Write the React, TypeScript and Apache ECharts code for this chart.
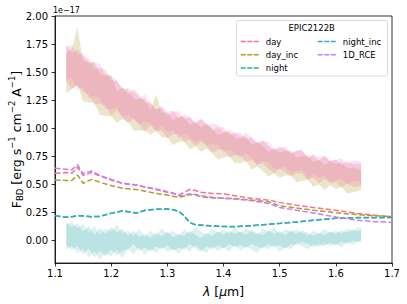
import React, { useEffect, useRef } from "react";
import * as echarts from "echarts";

const bandX = [1.12,1.13,1.14,1.15,1.16,1.17,1.18,1.19,1.20,1.21,1.22,1.23,1.24,1.25,1.26,1.27,1.28,1.29,1.30,1.31,1.32,1.33,1.34,1.35,1.36,1.37,1.38,1.39,1.40,1.41,1.42,1.43,1.44,1.45,1.46,1.47,1.48,1.49,1.50,1.51,1.52,1.53,1.54,1.55,1.56,1.57,1.58,1.59,1.60,1.61,1.62,1.63,1.64,1.645];

const dayHi = [1.74,1.67,1.70,1.64,1.62,1.53,1.54,1.52,1.43,1.42,1.36,1.30,1.35,1.30,1.23,1.23,1.17,1.18,1.11,1.15,1.15,1.08,1.10,1.04,1.08,1.04,0.98,1.01,1.01,0.94,0.96,0.96,0.90,0.92,0.87,0.89,0.84,0.80,0.84,0.81,0.77,0.80,0.80,0.74,0.76,0.71,0.75,0.71,0.72,0.67,0.71,0.68,0.68,0.69];
const dayLo = [1.42,1.35,1.38,1.32,1.30,1.21,1.22,1.20,1.11,1.16,1.10,1.04,1.09,1.04,0.97,1.03,0.97,0.98,0.91,0.95,0.95,0.88,0.90,0.84,0.88,0.84,0.78,0.81,0.81,0.74,0.76,0.76,0.70,0.72,0.67,0.69,0.64,0.60,0.64,0.61,0.57,0.60,0.60,0.54,0.56,0.51,0.55,0.51,0.52,0.47,0.51,0.48,0.48,0.49];
const incHi = [1.67,1.71,1.90,1.60,1.59,1.59,1.48,1.47,1.47,1.33,1.36,1.34,1.26,1.26,1.26,1.16,1.30,1.14,1.14,1.07,1.10,1.10,1.03,1.06,1.01,1.04,1.00,0.94,0.96,0.97,0.91,0.91,0.93,0.85,0.88,0.84,0.79,0.82,0.78,0.80,0.80,0.74,0.75,0.76,0.70,0.72,0.67,0.71,0.68,0.70,0.64,0.65,0.64,0.63];
const incLo = [1.31,1.35,1.39,1.24,1.23,1.23,1.12,1.11,1.11,1.05,1.08,1.06,0.98,0.98,0.98,0.94,0.98,0.92,0.92,0.85,0.88,0.88,0.81,0.84,0.79,0.82,0.78,0.72,0.74,0.75,0.69,0.69,0.71,0.63,0.66,0.62,0.57,0.60,0.56,0.58,0.58,0.52,0.53,0.54,0.48,0.50,0.45,0.49,0.46,0.48,0.42,0.43,0.44,0.45];
const rceHi = [1.73,1.74,1.65,1.67,1.57,1.59,1.57,1.47,1.47,1.43,1.34,1.36,1.32,1.27,1.30,1.22,1.16,1.20,1.15,1.16,1.09,1.13,1.10,1.05,1.09,1.03,1.04,1.03,0.96,0.99,0.96,0.92,0.96,0.92,0.86,0.89,0.88,0.82,0.82,0.84,0.78,0.80,0.81,0.73,0.77,0.74,0.76,0.70,0.72,0.73,0.68,0.71,0.71,0.69];
const rceLo = [1.43,1.44,1.35,1.37,1.27,1.29,1.27,1.17,1.17,1.19,1.10,1.12,1.08,1.03,1.06,1.04,0.98,1.02,0.97,0.98,0.91,0.95,0.92,0.87,0.91,0.85,0.86,0.85,0.78,0.81,0.78,0.74,0.78,0.74,0.68,0.71,0.70,0.64,0.64,0.66,0.60,0.62,0.63,0.55,0.59,0.56,0.58,0.52,0.54,0.55,0.50,0.53,0.53,0.51];
const niHi = [0.16,0.12,0.15,0.08,0.13,0.05,0.11,0.06,0.12,0.07,0.11,0.04,0.09,0.03,0.06,0.02,0.07,0.04,0.08,0.03,0.06,0.04,0.09,0.05,0.02,0.07,0.04,0.08,0.05,0.09,0.06,0.08,0.05,0.09,0.07,0.05,0.09,0.06,0.08,0.05,0.09,0.06,0.09,0.07,0.04,0.07,0.05,0.08,0.06,0.09,0.07,0.10,0.08,0.10];
const niLo = [-0.04,-0.08,-0.05,-0.12,-0.07,-0.15,-0.09,-0.14,-0.08,-0.13,-0.09,-0.08,-0.03,-0.09,-0.06,-0.10,-0.05,-0.08,-0.04,-0.09,-0.06,-0.08,-0.03,-0.07,-0.10,-0.05,-0.08,-0.04,-0.07,-0.03,-0.06,-0.04,-0.07,-0.03,-0.05,-0.07,-0.03,-0.06,-0.04,-0.07,-0.03,-0.04,-0.01,-0.03,-0.06,-0.03,-0.05,-0.02,-0.04,-0.01,-0.03,0.00,-0.02,0.00];
const nHi = [0.14,0.17,0.11,0.15,0.07,0.13,0.05,0.11,0.08,0.14,0.06,0.09,0.04,0.10,0.03,0.09,0.05,0.11,0.06,0.09,0.04,0.10,0.06,0.12,0.08,0.05,0.11,0.07,0.10,0.06,0.12,0.07,0.11,0.08,0.05,0.11,0.08,0.12,0.06,0.10,0.08,0.10,0.07,0.04,0.09,0.06,0.10,0.07,0.09,0.06,0.11,0.08,0.12,0.10];
const nLo = [-0.08,-0.05,-0.11,-0.07,-0.15,-0.09,-0.17,-0.11,-0.14,-0.08,-0.16,-0.07,-0.12,-0.06,-0.13,-0.07,-0.11,-0.05,-0.10,-0.07,-0.12,-0.06,-0.10,-0.04,-0.08,-0.11,-0.05,-0.09,-0.06,-0.10,-0.04,-0.09,-0.05,-0.08,-0.11,-0.05,-0.08,-0.04,-0.10,-0.06,-0.08,-0.02,-0.05,-0.08,-0.03,-0.06,-0.02,-0.05,-0.03,-0.06,-0.01,-0.04,0.00,-0.02];

const lineX = [1.10,1.12,1.13,1.14,1.15,1.165,1.18,1.20,1.22,1.245,1.26,1.28,1.30,1.31,1.32,1.33,1.34,1.35,1.36,1.38,1.40,1.42,1.45,1.48,1.50,1.53,1.56,1.60,1.64,1.67,1.70];
const dayLine = [0.60,0.605,0.60,0.655,0.58,0.605,0.575,0.54,0.51,0.495,0.475,0.455,0.43,0.42,0.405,0.43,0.455,0.445,0.43,0.42,0.415,0.40,0.375,0.36,0.34,0.315,0.295,0.27,0.24,0.225,0.213];
const incLine = [0.54,0.535,0.535,0.584,0.51,0.545,0.52,0.49,0.465,0.455,0.44,0.42,0.405,0.395,0.385,0.395,0.41,0.405,0.39,0.38,0.377,0.375,0.36,0.345,0.31,0.29,0.27,0.248,0.23,0.22,0.213];
const nLine = [0.222,0.208,0.212,0.221,0.219,0.213,0.215,0.242,0.264,0.245,0.269,0.278,0.28,0.274,0.261,0.22,0.16,0.141,0.138,0.131,0.126,0.124,0.133,0.145,0.153,0.166,0.181,0.199,0.205,0.206,0.207];
const niLine = [0.222,0.207,0.212,0.222,0.22,0.213,0.215,0.243,0.265,0.245,0.27,0.279,0.281,0.275,0.262,0.22,0.16,0.14,0.137,0.13,0.125,0.123,0.132,0.144,0.152,0.165,0.18,0.198,0.203,0.204,0.204];
const rceLine = [0.645,0.635,0.63,0.675,0.595,0.62,0.58,0.545,0.51,0.495,0.48,0.46,0.435,0.425,0.40,0.405,0.415,0.41,0.40,0.385,0.375,0.37,0.355,0.33,0.295,0.27,0.245,0.21,0.18,0.168,0.163];

const xTicks = [1.1, 1.2, 1.3, 1.4, 1.5, 1.6, 1.7];
const yTicks = [0, 0.25, 0.5, 0.75, 1.0, 1.25, 1.5, 1.75, 2.0];

const names = ["day", "day_inc", "night", "night_inc", "1D_RCE"];
const colors = ["#f77189", "#ae9d31", "#33b07a", "#38a9c5", "#cc7af4"];
const FONT = "DejaVu Sans";

function band(name: string, hi: number[], lo: number[], fill: string) {
  return {
    type: "custom",
    name,
    silent: true,
    data: [[bandX[0], hi[0]]],
    encode: { x: 0, y: 1 },
    renderItem: (params: any, api: any) => {
      const pts: number[][] = [];
      for (let i = 0; i < bandX.length; i++) pts.push(api.coord([bandX[i], hi[i]]));
      for (let i = bandX.length - 1; i >= 0; i--) pts.push(api.coord([bandX[i], lo[i]]));
      return { type: "polygon", shape: { points: pts }, style: { fill } };
    },
    z: 1,
  };
}

function line(idx: number, ys: number[]) {
  return {
    type: "line",
    name: names[idx],
    data: lineX.map((x, i) => [x, ys[i]]),
    symbol: "none",
    color: colors[idx],
    itemStyle: { color: colors[idx] },
    lineStyle: { color: colors[idx], width: 1.5, type: [5.5, 2.4] },
    z: 2,
  };
}

export default function App() {
  const ref = useRef<HTMLDivElement>(null);
  useEffect(() => {
    const chart = echarts.init(ref.current!, null, { renderer: "svg" });
    const legendCommon = {
      orient: "vertical",
      top: 36,
      padding: 0,
      z: 20,
      itemWidth: 18,
      itemHeight: 8,
      itemGap: 2.3,
      selectedMode: false,
      itemStyle: { opacity: 0 },
      lineStyle: { width: 1.5, type: [5, 1.5] },
      textStyle: { fontFamily: FONT, fontSize: 8.5, color: "#000", lineHeight: 11, padding: [0, 0, 0, 2] },
    };
    chart.setOption({
      animation: false,
      backgroundColor: "#fff",
      grid: { left: 55, right: 15, top: 16, bottom: 41, show: true, borderColor: "#000", borderWidth: 0.8, backgroundColor: "transparent" },
      xAxis: {
        type: "value",
        min: 1.1,
        max: 1.7,
        axisLine: { show: true, onZero: false, lineStyle: { color: "#000", width: 0.8 } },
        axisTick: { show: true, length: 3.5, inside: false, customValues: xTicks, lineStyle: { color: "#000", width: 0.8 } },
        axisLabel: { customValues: xTicks, formatter: (v: number) => v.toFixed(1), color: "#000", fontFamily: FONT, fontSize: 10, margin: 5 },
        splitLine: { show: false },
      },
      yAxis: {
        type: "value",
        min: -0.2,
        max: 2.0,
        axisLine: { show: true, onZero: false, lineStyle: { color: "#000", width: 0.8 } },
        axisTick: { show: true, length: 3.5, inside: false, customValues: yTicks, lineStyle: { color: "#000", width: 0.8 } },
        axisLabel: { customValues: yTicks, formatter: (v: number) => v.toFixed(2), color: "#000", fontFamily: FONT, fontSize: 10, margin: 7 },
        splitLine: { show: false },
      },
      legend: [
        { ...legendCommon, left: 240, data: ["day", "day_inc", "night"] },
        { ...legendCommon, left: 317, data: ["night_inc", "1D_RCE"] },
      ],
      graphic: [
        { type: "rect", z: 5, shape: { x: 236.5, y: 20.5, width: 151, height: 55.5, r: 2 }, style: { fill: "rgba(255,255,255,0.8)", stroke: "#d0d0d0", lineWidth: 0.8 } },
        { type: "text", z: 21, x: 311.7, y: 27.5, style: { text: "EPIC2122B", fontFamily: FONT, fontSize: 8.5, fill: "#000", align: "center", verticalAlign: "middle" } },
        { type: "text", x: 53, y: 10.5, style: { text: "1e\u221217", fontFamily: FONT, fontSize: 8, fill: "#000", align: "left", verticalAlign: "middle" } },
        {
          type: "text", x: 223.5, y: 291.5,
          style: {
            text: "{i|\u03bb}{n| [}{i|\u03bc}{n|m]}", align: "center", verticalAlign: "middle",
            rich: {
              i: { fontFamily: FONT, fontSize: 12.5, fontStyle: "italic", fill: "#000" },
              n: { fontFamily: FONT, fontSize: 12.5, fill: "#000" },
            },
          },
        },
        {
          type: "text", x: 16, y: 139.5, rotation: Math.PI / 2,
          style: {
            text: "{n|F}{sub|BD}{n| [erg s}{sup|\u22121}{n| cm}{sup|\u22122}{n| A}{sup|\u22121}{n|]}", align: "center", verticalAlign: "middle",
            rich: {
              n: { fontFamily: FONT, fontSize: 12.5, fill: "#000", lineHeight: 17, verticalAlign: "middle" },
              sub: { fontFamily: FONT, fontSize: 8.5, fill: "#000", lineHeight: 17, verticalAlign: "bottom" },
              sup: { fontFamily: FONT, fontSize: 8.5, fill: "#000", lineHeight: 17, verticalAlign: "top" },
            },
          },
        },
      ],
      series: [
        band("night_inc_band", niHi, niLo, "rgba(56,169,197,0.2)"),
        band("night_band", nHi, nLo, "rgba(51,176,140,0.16)"),
        band("day_inc_band", incHi, incLo, "rgba(174,157,49,0.25)"),
        band("rce_band", rceHi, rceLo, "rgba(214,110,230,0.2)"),
        band("day_band", dayHi, dayLo, "rgba(247,113,137,0.25)"),
        line(0, dayLine),
        line(1, incLine),
        line(2, nLine),
        line(3, niLine),
        line(4, rceLine),
      ],
    });
    return () => chart.dispose();
  }, []);
  return <div ref={ref} style={{ width: 407, height: 304, position: "absolute", left: 0, top: 0 }} />;
}
